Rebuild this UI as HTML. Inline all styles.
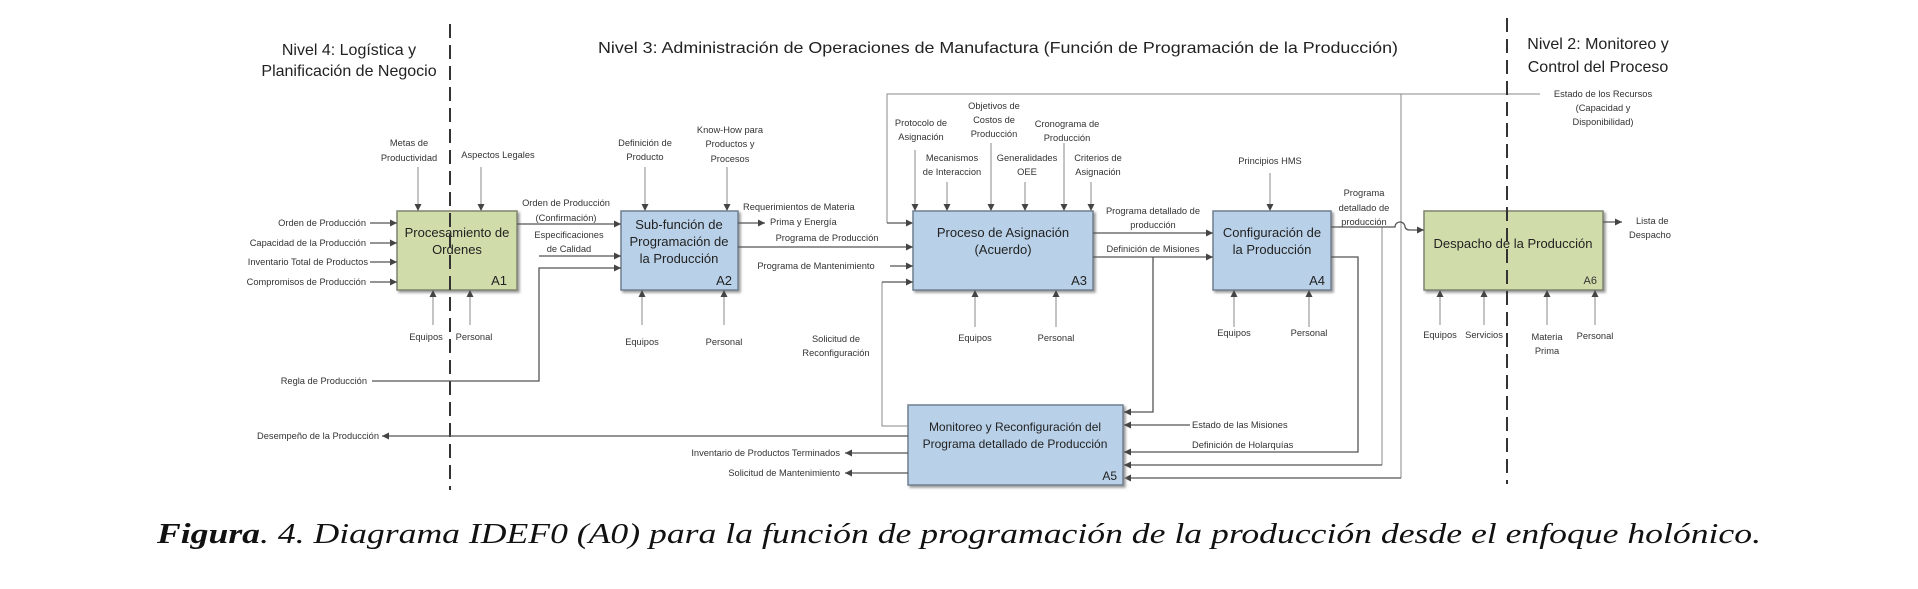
<!DOCTYPE html>
<html><head><meta charset="utf-8"><style>
html,body{margin:0;padding:0;background:#fff;}
svg{display:block;}
text{font-family:"Liberation Sans",sans-serif;fill:#333;}
.s{font-size:9.3px;}
.b{font-size:13px;fill:#222;}
.h{font-size:16px;fill:#222;}
.l{stroke:#555;stroke-width:1.3;fill:none;}
.t{stroke:#888;stroke-width:1;fill:none;}
</style></head><body>
<svg width="1918" height="589" viewBox="0 0 1918 589" xmlns="http://www.w3.org/2000/svg">
<defs>
<marker id="a" viewBox="0 0 10 10" refX="10" refY="5" markerWidth="7" markerHeight="7" orient="auto" markerUnits="userSpaceOnUse"><path d="M0,0 L10,5 L0,10 z" fill="#444"/></marker>
<filter id="sh" x="-5%" y="-5%" width="110%" height="115%"><feDropShadow dx="2" dy="2" stdDeviation="1.2" flood-color="#999"/></filter>
</defs>

<!-- headers -->
<text class="h" x="349" y="55" text-anchor="middle">Nivel 4: Logística y</text>
<text class="h" x="349" y="76" text-anchor="middle">Planificación de Negocio</text>
<text class="h" x="598" y="53" textLength="800" lengthAdjust="spacingAndGlyphs">Nivel 3: Administración de Operaciones de Manufactura (Función de Programación de la Producción)</text>
<text class="h" x="1598" y="49" text-anchor="middle">Nivel 2: Monitoreo y</text>
<text class="h" x="1598" y="72" text-anchor="middle">Control del Proceso</text>

<!-- top feedback line -->
<path class="t" d="M1540,94 H887 V223"/>
<path class="l" d="M887,223 H913" marker-end="url(#a)"/>
<path class="t" d="M1401,94 V478"/>
<path class="l" d="M1401,478 H1124" marker-end="url(#a)"/>
<text class="s" x="1603" y="97" text-anchor="middle">Estado de los Recursos</text>
<text class="s" x="1603" y="111" text-anchor="middle">(Capacidad y</text>
<text class="s" x="1603" y="125" text-anchor="middle">Disponibilidad)</text>

<!-- boxes -->
<g filter="url(#sh)">
<rect x="397" y="211" width="120" height="79" fill="#d0dcaa" stroke="#7f8470" stroke-width="1.5"/>
<rect x="621" y="211" width="117" height="79" fill="#b9d1e8" stroke="#6f7f8f" stroke-width="1.5"/>
<rect x="913" y="211" width="180" height="79" fill="#b9d1e8" stroke="#6f7f8f" stroke-width="1.5"/>
<rect x="1213" y="211" width="118" height="79" fill="#b9d1e8" stroke="#6f7f8f" stroke-width="1.5"/>
<rect x="1424" y="211" width="179" height="79" fill="#d0dcaa" stroke="#7f8470" stroke-width="1.5"/>
<rect x="908" y="405" width="215" height="80" fill="#b9d1e8" stroke="#6f7f8f" stroke-width="1.5"/>
</g>
<text class="b" x="457" y="237" text-anchor="middle">Procesamiento de</text>
<text class="b" x="457" y="254" text-anchor="middle">Ordenes</text>
<text class="b" x="507" y="285" text-anchor="end">A1</text>
<text class="b" x="679" y="229" text-anchor="middle">Sub-función de</text>
<text class="b" x="679" y="246" text-anchor="middle">Programación de</text>
<text class="b" x="679" y="263" text-anchor="middle">la Producción</text>
<text class="b" x="732" y="285" text-anchor="end">A2</text>
<text class="b" x="1003" y="237" text-anchor="middle">Proceso de Asignación</text>
<text class="b" x="1003" y="254" text-anchor="middle">(Acuerdo)</text>
<text class="b" x="1087" y="285" text-anchor="end">A3</text>
<text class="b" x="1272" y="237" text-anchor="middle">Configuración de</text>
<text class="b" x="1272" y="254" text-anchor="middle">la Producción</text>
<text class="b" x="1325" y="285" text-anchor="end">A4</text>
<text class="b" x="1513" y="248" text-anchor="middle">Despacho de la Producción</text>
<text class="s" x="1597" y="284" text-anchor="end" style="font-size:11px">A6</text>
<text class="b" x="1015" y="431" text-anchor="middle" style="font-size:12px">Monitoreo y Reconfiguración del</text>
<text class="b" x="1015" y="448" text-anchor="middle" style="font-size:12px">Programa detallado de Producción</text>
<text class="b" x="1117" y="480" text-anchor="end" style="font-size:12px">A5</text>

<!-- dashed level lines -->
<path d="M450,24 V490" stroke="#333" stroke-width="2" stroke-dasharray="14,7"/>
<path d="M1507,18 V484" stroke="#333" stroke-width="2" stroke-dasharray="14,7"/>

<!-- A1 inputs -->
<g class="s" text-anchor="end">
<text x="366" y="226">Orden de Producción</text>
<text x="366" y="246">Capacidad de la Producción</text>
<text x="368" y="265">Inventario Total de Productos</text>
<text x="366" y="285">Compromisos de Producción</text>
</g>
<path class="l" d="M370,223 H397" marker-end="url(#a)"/>
<path class="l" d="M370,243 H397" marker-end="url(#a)"/>
<path class="l" d="M370,262 H397" marker-end="url(#a)"/>
<path class="l" d="M370,282 H397" marker-end="url(#a)"/>
<!-- A1 controls -->
<text class="s" x="409" y="146" text-anchor="middle">Metas de</text>
<text class="s" x="409" y="161" text-anchor="middle">Productividad</text>
<text class="s" x="498" y="158" text-anchor="middle">Aspectos Legales</text>
<path class="t" d="M418,167 V211" marker-end="url(#a)"/>
<path class="t" d="M481,167 V211" marker-end="url(#a)"/>
<!-- A1 mech -->
<path class="t" d="M433,325 V290" marker-end="url(#a)"/>
<path class="t" d="M470,325 V290" marker-end="url(#a)"/>
<text class="s" x="426" y="340" text-anchor="middle">Equipos</text>
<text class="s" x="474" y="340" text-anchor="middle">Personal</text>

<!-- A1 -> A2 -->
<path class="l" d="M517,224 H621" marker-end="url(#a)"/>
<text class="s" x="566" y="206" text-anchor="middle">Orden de Producción</text>
<text class="s" x="566" y="221" text-anchor="middle">(Confirmación)</text>
<text class="s" x="569" y="238" text-anchor="middle">Especificaciones</text>
<text class="s" x="569" y="252" text-anchor="middle">de Calidad</text>
<path class="l" d="M539,256 H621" marker-end="url(#a)"/>
<path class="l" d="M372,381 H539 V268 H621" marker-end="url(#a)"/>
<text class="s" x="367" y="384" text-anchor="end">Regla de Producción</text>

<!-- A2 controls -->
<text class="s" x="645" y="146" text-anchor="middle">Definición de</text>
<text class="s" x="645" y="160" text-anchor="middle">Producto</text>
<text class="s" x="730" y="133" text-anchor="middle">Know-How para</text>
<text class="s" x="730" y="147" text-anchor="middle">Productos y</text>
<text class="s" x="730" y="162" text-anchor="middle">Procesos</text>
<path class="t" d="M645,167 V211" marker-end="url(#a)"/>
<path class="t" d="M727,167 V211" marker-end="url(#a)"/>
<!-- A2 mech -->
<path class="t" d="M642,325 V290" marker-end="url(#a)"/>
<path class="t" d="M724,325 V290" marker-end="url(#a)"/>
<text class="s" x="642" y="345" text-anchor="middle">Equipos</text>
<text class="s" x="724" y="345" text-anchor="middle">Personal</text>
<!-- A2 outputs -->
<path class="l" d="M738,223 H765" marker-end="url(#a)"/>
<text class="s" x="743" y="210">Requerimientos de Materia</text>
<text class="s" x="770" y="225">Prima y Energía</text>
<path class="l" d="M738,247 H913" marker-end="url(#a)"/>
<text class="s" x="827" y="241" text-anchor="middle">Programa de Producción</text>
<text class="s" x="816" y="269" text-anchor="middle">Programa de Mantenimiento</text>
<path class="l" d="M890,266 H913" marker-end="url(#a)"/>
<!-- reconfig loop -->
<path class="t" d="M908,426 H882 V282"/>
<path class="l" d="M882,282 H913" marker-end="url(#a)"/>
<text class="s" x="836" y="342" text-anchor="middle">Solicitud de</text>
<text class="s" x="836" y="356" text-anchor="middle">Reconfiguración</text>

<!-- A3 controls -->
<g class="s" text-anchor="middle">
<text x="921" y="126">Protocolo de</text><text x="921" y="140">Asignación</text>
<text x="994" y="109">Objetivos de</text><text x="994" y="123">Costos de</text><text x="994" y="137">Producción</text>
<text x="1067" y="127">Cronograma de</text><text x="1067" y="141">Producción</text>
<text x="952" y="161">Mecanismos</text><text x="952" y="175">de Interaccion</text>
<text x="1027" y="161">Generalidades</text><text x="1027" y="175">OEE</text>
<text x="1098" y="161">Criterios de</text><text x="1098" y="175">Asignación</text>
</g>
<path class="t" d="M915,150 V211" marker-end="url(#a)"/>
<path class="t" d="M947,182 V211" marker-end="url(#a)"/>
<path class="t" d="M991,143 V211" marker-end="url(#a)"/>
<path class="t" d="M1025,182 V211" marker-end="url(#a)"/>
<path class="t" d="M1064,143 V211" marker-end="url(#a)"/>
<path class="t" d="M1091,182 V211" marker-end="url(#a)"/>
<!-- A3 mech -->
<path class="t" d="M975,327 V290" marker-end="url(#a)"/>
<path class="t" d="M1056,327 V290" marker-end="url(#a)"/>
<text class="s" x="975" y="341" text-anchor="middle">Equipos</text>
<text class="s" x="1056" y="341" text-anchor="middle">Personal</text>
<!-- A3 outputs -->
<path class="l" d="M1093,233 H1213" marker-end="url(#a)"/>
<text class="s" x="1153" y="214" text-anchor="middle">Programa detallado de</text>
<text class="s" x="1153" y="228" text-anchor="middle">producción</text>
<path class="l" d="M1093,257 H1213" marker-end="url(#a)"/>
<text class="s" x="1153" y="252" text-anchor="middle">Definición de Misiones</text>
<path class="l" d="M1153,257 V412 H1124" marker-end="url(#a)"/>
<path class="l" d="M1190,425 H1124" marker-end="url(#a)"/>
<text class="s" x="1192" y="428">Estado de las Misiones</text>
<text class="s" x="1192" y="448">Definición de Holarquías</text>

<!-- A4 -->
<text class="s" x="1270" y="164" text-anchor="middle">Principios HMS</text>
<path class="t" d="M1270,173 V211" marker-end="url(#a)"/>
<path class="t" d="M1234,327 V290" marker-end="url(#a)"/>
<path class="t" d="M1309,327 V290" marker-end="url(#a)"/>
<text class="s" x="1234" y="336" text-anchor="middle">Equipos</text>
<text class="s" x="1309" y="336" text-anchor="middle">Personal</text>
<path class="l" d="M1331,257 H1358 V452 H1124" marker-end="url(#a)"/>
<path class="t" d="M1382,227 V465"/>
<path class="l" d="M1382,465 H1124" marker-end="url(#a)"/>
<path class="l" d="M1331,227 H1395 A5,5 0 0 1 1405,227 Q1406,230 1410,230 H1424" marker-end="url(#a)"/>
<text class="s" x="1364" y="196" text-anchor="middle">Programa</text>
<text class="s" x="1364" y="211" text-anchor="middle">detallado de</text>
<text class="s" x="1364" y="225" text-anchor="middle">producción</text>

<!-- A6 -->
<path class="l" d="M1603,222 H1622" marker-end="url(#a)"/>
<text class="s" x="1636" y="224">Lista de</text>
<text class="s" x="1629" y="238">Despacho</text>
<path class="t" d="M1440,325 V290" marker-end="url(#a)"/>
<path class="t" d="M1484,325 V290" marker-end="url(#a)"/>
<path class="t" d="M1547,325 V290" marker-end="url(#a)"/>
<path class="t" d="M1595,325 V290" marker-end="url(#a)"/>
<text class="s" x="1440" y="338" text-anchor="middle">Equipos</text>
<text class="s" x="1484" y="338" text-anchor="middle">Servicios</text>
<text class="s" x="1547" y="340" text-anchor="middle">Materia</text>
<text class="s" x="1547" y="354" text-anchor="middle">Prima</text>
<text class="s" x="1595" y="339" text-anchor="middle">Personal</text>

<!-- A5 outputs -->
<path class="l" d="M908,436 H382" marker-end="url(#a)"/>
<text class="s" x="379" y="439" text-anchor="end">Desempeño de la Producción</text>
<path class="l" d="M908,453 H845" marker-end="url(#a)"/>
<text class="s" x="840" y="456" text-anchor="end">Inventario de Productos Terminados</text>
<path class="l" d="M908,473 H845" marker-end="url(#a)"/>
<text class="s" x="840" y="476" text-anchor="end">Solicitud de Mantenimiento</text>

<!-- caption -->
<text x="157" y="543" style="font-family:'Liberation Serif',serif;font-size:29px;font-style:italic;fill:#111" textLength="1604" lengthAdjust="spacingAndGlyphs"><tspan font-weight="bold">Figura</tspan>. 4. Diagrama IDEF0 (A0) para la función de programación de la producción desde el enfoque holónico.</text>
</svg>
</body></html>
